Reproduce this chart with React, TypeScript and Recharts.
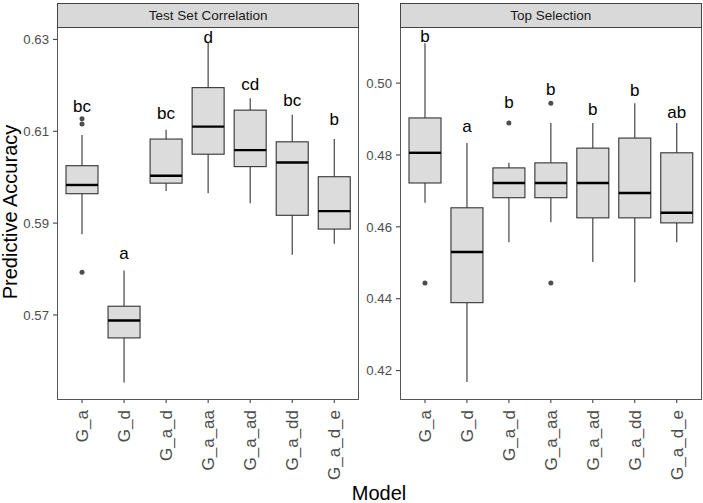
import React from 'react';
import { ComposedChart, Bar, Scatter, XAxis, YAxis } from 'recharts';

const models = ['G_a', 'G_d', 'G_a_d', 'G_a_aa', 'G_a_ad', 'G_a_dd', 'G_a_d_e'];

// Test Set Correlation (whisker low, q1, median, q3, whisker high)
const corrLow = [0.5876, 0.5553, 0.597, 0.5965, 0.5943, 0.5831, 0.5855];
const corrQ1 = [0.5964, 0.565, 0.5987, 0.605, 0.6023, 0.5917, 0.5887];
const corrMedian = [0.5983, 0.5688, 0.6003, 0.611, 0.6059, 0.6032, 0.5926];
const corrQ3 = [0.6025, 0.5719, 0.6083, 0.6195, 0.6146, 0.6077, 0.6001];
const corrHigh = [0.6092, 0.5797, 0.6103, 0.6293, 0.6172, 0.6136, 0.6083];
const corrLetters = ['bc', 'a', 'bc', 'd', 'cd', 'bc', 'b'];
const corrLetterAt = [0.6141, 0.5822, 0.6127, 0.6293, 0.619, 0.6155, 0.6113];
const corrOutliers = [
  { model: 'G_a', value: 0.6127 },
  { model: 'G_a', value: 0.6116 },
  { model: 'G_a', value: 0.5793 },
];
const corrTicks = [0.57, 0.59, 0.61, 0.63];
const corrDomain = [0.5517, 0.6327];

// Top Selection
const topLow = [0.4667, 0.4168, 0.4557, 0.4613, 0.4502, 0.4446, 0.4557];
const topQ1 = [0.4722, 0.4389, 0.4681, 0.4681, 0.4625, 0.4625, 0.4611];
const topMedian = [0.4806, 0.453, 0.4722, 0.4722, 0.4722, 0.4694, 0.4639];
const topQ3 = [0.4903, 0.4653, 0.4764, 0.4778, 0.4819, 0.4847, 0.4806];
const topHigh = [0.5111, 0.4833, 0.4778, 0.4889, 0.4889, 0.4944, 0.4889];
const topLetters = ['b', 'a', 'b', 'b', 'b', 'b', 'ab'];
const topLetterAt = [0.5114, 0.4863, 0.4931, 0.4966, 0.491, 0.4963, 0.4903];
const topOutliers = [
  { model: 'G_a', value: 0.4444 },
  { model: 'G_a_d', value: 0.4889 },
  { model: 'G_a_aa', value: 0.4944 },
  { model: 'G_a_aa', value: 0.4444 },
];
const topTicks = [0.42, 0.44, 0.46, 0.48, 0.5];
const topDomain = [0.4121, 0.5156];

const buildRows = (low: number[], q1: number[], med: number[], q3: number[], high: number[], letters: string[], letterAt: number[]) =>
  models.map((m, i) => ({
    model: m,
    range: [low[i], high[i]],
    q1: q1[i],
    median: med[i],
    q3: q3[i],
    letter: letters[i],
    letterAt: letterAt[i],
  }));

const corrRows = buildRows(corrLow, corrQ1, corrMedian, corrQ3, corrHigh, corrLetters, corrLetterAt);
const topRows = buildRows(topLow, topQ1, topMedian, topQ3, topHigh, topLetters, topLetterAt);

const FONT = '"Liberation Sans", Arial, Helvetica, sans-serif';

const BoxShape = (props: any) => {
  const { x, y, width, height, payload } = props;
  const [lo, hi] = payload.range;
  const top = Math.min(y, y + height);
  const h = Math.abs(height);
  // map a value into the pixel span the bar got from the y scale
  const py = (v: number) => top + ((hi - v) / (hi - lo)) * h;
  const cx = x + width / 2;
  return (
    <g>
      <line x1={cx} x2={cx} y1={py(hi)} y2={py(payload.q3)} stroke="#333" strokeWidth={1.1} />
      <line x1={cx} x2={cx} y1={py(payload.q1)} y2={py(lo)} stroke="#333" strokeWidth={1.1} />
      <rect
        x={x}
        y={py(payload.q3)}
        width={width}
        height={py(payload.q1) - py(payload.q3)}
        fill="#dcdcdc"
        stroke="#333"
        strokeWidth={1.1}
      />
      <line x1={x} x2={x + width} y1={py(payload.median)} y2={py(payload.median)} stroke="#000" strokeWidth={2.4} />
    </g>
  );
};

const LetterShape = (props: any) => (
  <text x={props.cx} y={props.cy} textAnchor="middle" fontSize={17} fill="#000">
    {props.payload.letter}
  </text>
);

const OutlierShape = (props: any) => <circle cx={props.cx} cy={props.cy} r={2.5} fill="#4d4d4d" />;

const XTick = (props: any) => {
  const { x, y, payload } = props;
  return (
    <text
      transform={`translate(${x},${y + 5}) rotate(-90)`}
      textAnchor="end"
      dy="0.35em"
      fontSize={17}
      fill="#4d4d4d"
    >
      {payload.value}
    </text>
  );
};

interface PanelProps {
  left: number;
  width: number;
  rightMargin: number;
  title: string;
  rows: any[];
  outliers: { model: string; value: number }[];
  domain: number[];
  ticks: number[];
}

const Panel = ({ left, width, rightMargin, title, rows, outliers, domain, ticks }: PanelProps) => {
  const plotLeft = left + 57;
  const plotW = width - 57 - rightMargin;
  return (
    <>
      <div style={{ position: 'absolute', left, top: 0 }}>
        <ComposedChart
          width={width}
          height={503}
          data={rows}
          margin={{ top: 27, right: rightMargin, left: 0, bottom: 0 }}
        >
          <XAxis
            dataKey="model"
            type="category"
            allowDuplicatedCategory={false}
            interval={0}
            height={104}
            padding={{ left: 4, right: 4 }}
            axisLine={false}
            tickLine={{ stroke: '#333' }}
            tickSize={4}
            tickMargin={2}
            tick={<XTick />}
          />
          <YAxis
            type="number"
            domain={domain}
            ticks={ticks}
            allowDataOverflow
            width={57}
            axisLine={false}
            tickLine={{ stroke: '#333' }}
            tickSize={4}
            tickMargin={4}
            tick={{ fill: '#4d4d4d', fontSize: 13.2 }}
            tickFormatter={(v: number) => v.toFixed(2)}
          />
          <Bar dataKey="range" barSize={32} shape={BoxShape} isAnimationActive={false} />
          <Scatter data={outliers} dataKey="value" shape={OutlierShape} isAnimationActive={false} />
          <Scatter dataKey="letterAt" shape={LetterShape} isAnimationActive={false} />
        </ComposedChart>
      </div>
      <div
        style={{
          position: 'absolute',
          left: plotLeft,
          top: 27,
          width: plotW,
          height: 372.5,
          border: '1px solid #555',
          boxSizing: 'border-box',
          pointerEvents: 'none',
        }}
      />
      <div
        style={{
          position: 'absolute',
          left: plotLeft,
          top: 3,
          width: plotW,
          height: 25,
          background: '#d9d9d9',
          border: '1px solid #444',
          boxSizing: 'border-box',
          color: '#1a1a1a',
          fontSize: 13.5,
          lineHeight: '23px',
          textAlign: 'center',
        }}
      >
        {title}
      </div>
    </>
  );
};

export default function App() {
  return (
    <div
      style={{
        position: 'absolute',
        left: 0,
        top: 0,
        width: 703,
        height: 503,
        background: '#fff',
        fontFamily: FONT,
        overflow: 'hidden',
      }}
    >
      <Panel
        left={0}
        width={362}
        rightMargin={2.7}
        title="Test Set Correlation"
        rows={corrRows}
        outliers={corrOutliers}
        domain={corrDomain}
        ticks={corrTicks}
      />
      <Panel
        left={343}
        width={360}
        rightMargin={1.3}
        title="Top Selection"
        rows={topRows}
        outliers={topOutliers}
        domain={topDomain}
        ticks={topTicks}
      />
      <svg width={703} height={503} style={{ position: 'absolute', left: 0, top: 0, pointerEvents: 'none' }}>
        <text transform="translate(17,212) rotate(-90)" textAnchor="middle" fontSize={20} fill="#000">
          Predictive Accuracy
        </text>
        <text x={379} y={500} textAnchor="middle" fontSize={20} fill="#000">
          Model
        </text>
      </svg>
    </div>
  );
}
